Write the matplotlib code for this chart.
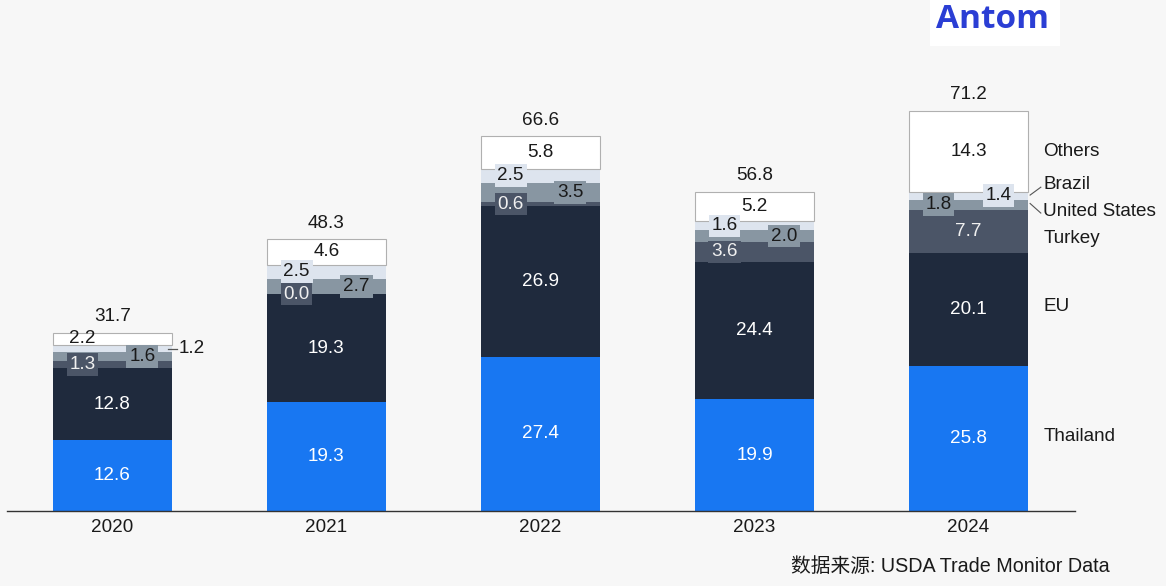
import matplotlib
matplotlib.use("Agg")
import matplotlib.pyplot as plt
from matplotlib.patches import Rectangle

plt.rcParams['font.family'] = ['Liberation Sans', 'Noto Sans CJK SC', 'DejaVu Sans']

# Дані
years = ['2020', '2021', '2022', '2023', '2024']
thailand = [12.6, 19.3, 27.4, 19.9, 25.8]
eu = [12.8, 19.3, 26.9, 24.4, 20.1]
turkey = [1.3, 0.0, 0.6, 3.6, 7.7]
united_states = [1.6, 2.7, 3.5, 2.0, 1.8]
brazil = [1.2, 2.5, 2.5, 1.6, 1.4]
others = [2.2, 4.6, 5.8, 5.2, 14.3]
totals = [31.7, 48.3, 66.6, 56.8, 71.2]
series_names = ['Thailand', 'EU', 'Turkey', 'United States', 'Brazil', 'Others']
source_text = '数据来源: USDA Trade Monitor Data'

series = [thailand, eu, turkey, united_states, brazil, others]
colors = ['#1877f2', '#1f2a3d', '#4b5567', '#8896a2', '#dde4ee', '#ffffff']
text_colors = ['white', 'white', '#f0f0f0', '#1a1a1a', '#1a1a1a', '#1a1a1a']

# де ставити підпис: c - по центру, l - ліворуч, r - праворуч, o - збоку від стовпчика
placement = [
    ['c', 'c', 'c', 'c', 'c'],
    ['c', 'c', 'c', 'c', 'c'],
    ['l', 'l', 'l', 'l', 'c'],
    ['r', 'r', 'r', 'r', 'l'],
    ['o', 'l', 'l', 'l', 'r'],
    ['l', 'c', 'c', 'c', 'c'],
]

fs = 13.6
bg = '#f7f7f7'
fig = plt.figure(figsize=(11.66, 5.86), dpi=100, facecolor=bg)
ax = fig.add_axes([0.006, 0.128, 0.916, 0.872])
ax.set_facecolor('none')

x = list(range(len(years)))
width = 0.556
shift = 0.14

bottoms = [0.0] * len(years)
for i, (vals, col) in enumerate(zip(series, colors)):
    ec = '#b0b0b0' if col == '#ffffff' else 'none'
    ax.bar(x, vals, width, bottom=bottoms, color=col, edgecolor=ec, linewidth=0.8, zorder=2)
    for j, v in enumerate(vals):
        yc = bottoms[j] + v / 2
        pos = placement[i][j]
        if pos == 'o':
            xe = x[j] + width / 2
            ax.plot([xe - 0.02, xe + 0.025], [yc, yc], color='#555555', lw=0.9, zorder=3)
            ax.text(xe + 0.03, yc, f'{v:.1f}', ha='left', va='center',
                    fontsize=fs, color='#1a1a1a', zorder=4)
            continue
        xc = x[j] + {'c': 0, 'l': -shift, 'r': shift}[pos]
        box = None
        if pos in ('l', 'r') and i != 5:
            box = dict(boxstyle='square,pad=0.15', fc=col, ec='none')
        ax.text(xc, yc, f'{v:.1f}', ha='center', va='center', fontsize=fs,
                color=text_colors[i], bbox=box, zorder=4)
    bottoms = [b + v for b, v in zip(bottoms, vals)]

# Підписи загальних сум
for j, t in enumerate(totals):
    ax.annotate(f'{t:.1f}', (x[j], t), xytext=(0, 11.5), textcoords='offset points',
                ha='center', va='center', fontsize=fs, color='#1a1a1a')

# Назви серій праворуч від останнього стовпчика
last = len(years) - 1
acc = 0.0
centers = []
for vals in series:
    centers.append(acc + vals[last] / 2)
    acc += vals[last]
adjust = [0.3, 0.6, -1.2, -1.2, 2.0, 0.0]
label_x = last + 0.35
for name, c, d in zip(series_names, centers, adjust):
    ax.text(label_x, c + d, name, ha='left', va='center', fontsize=fs, color='#1a1a1a')
xe = last + width / 2
ax.plot([xe + 0.01, xe + 0.06], [centers[4] + 0.1, centers[4] + 1.5], color='#555555', lw=0.8)
ax.plot([xe + 0.01, xe + 0.06], [centers[3] + 0.2, centers[3] - 1.5], color='#555555', lw=0.8)

ax.set_xlim(-0.493, 4.498)
ax.set_ylim(0, 90.9)
ax.set_xticks(x, years, fontsize=fs, color='#1a1a1a')
ax.tick_params(axis='x', length=0, pad=6)
ax.set_yticks([])
for s in ['top', 'right', 'left']:
    ax.spines[s].set_visible(False)
ax.spines['bottom'].set_color('#333333')
ax.spines['bottom'].set_linewidth(1.0)

# Логотип
fig.patches.append(Rectangle((930 / 1166, 1 - 46 / 586), 130 / 1166, 46 / 586,
                             transform=fig.transFigure, facecolor='white', edgecolor='none', zorder=0))
fig.text(993 / 1166, 1 - 19 / 586, 'Antom', ha='center', va='center', fontsize=24,
         fontweight='bold', color='#2b3ed4', family=['Open Sans', 'DejaVu Sans'])

fig.text(950 / 1166, 1 - 567 / 586, source_text, ha='center', va='center',
         fontsize=fs + 0.6, color='#1a1a1a')

fig.savefig('out.png', dpi=100, facecolor=bg)
